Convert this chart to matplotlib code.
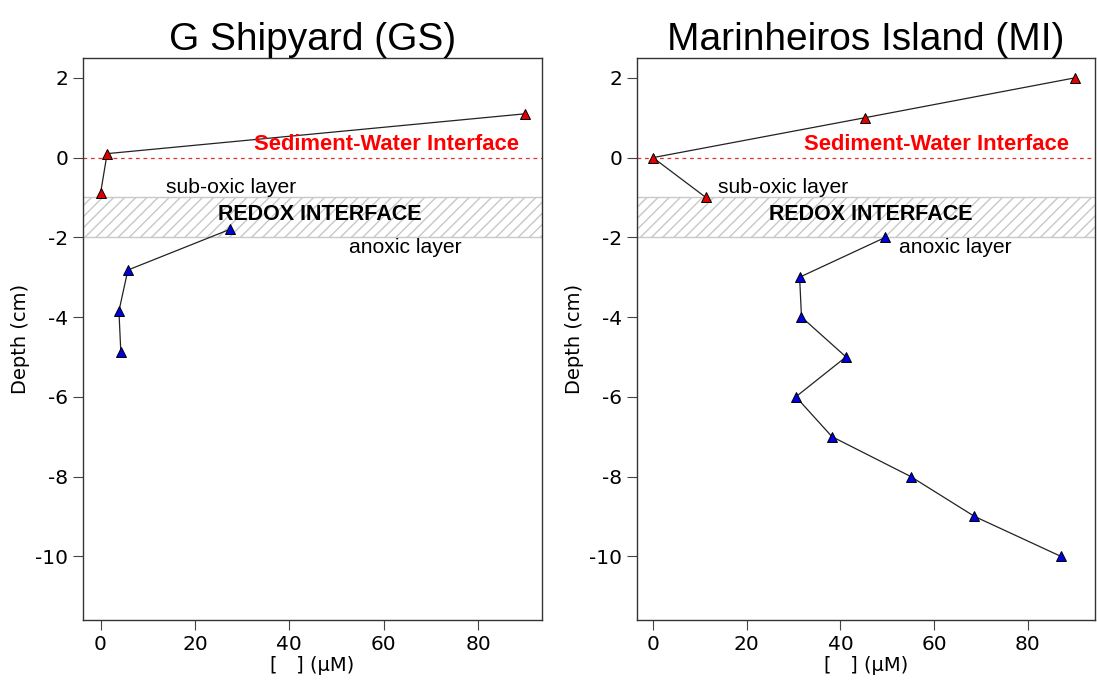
"""redox profiles, two sites"""
import numpy as np
import matplotlib.pyplot as plt

plt.rcParams['axes.unicode_minus'] = False
plt.rcParams['font.family'] = 'DejaVu Sans'

# data (x = concentration in uM, y = depth in cm)
gs_red_x = [90.0, 1.4, 0.0]
gs_red_y = [1.1, 0.1, -0.9]
gs_blue_x = [27.4, 5.8, 3.9, 4.3]
gs_blue_y = [-1.8, -2.82, -3.85, -4.87]

mi_red_x = [90.0, 45.2, 0.0, 11.3]
mi_red_y = [2.0, 1.0, 0.0, -1.0]
mi_blue_x = [49.6, 31.3, 31.7, 41.2, 30.5, 38.2, 55.0, 68.6, 87.0]
mi_blue_y = [-2.0, -3.0, -4.0, -5.0, -6.0, -7.0, -8.0, -9.0, -10.0]

titles = ["G Shipyard (GS)", "Marinheiros Island (MI)"]
yticks = [2, 0, -2, -4, -6, -8, -10]
xticks = [0, 20, 40, 60, 80]

fig = plt.figure(figsize=(10.97, 6.86), dpi=100)
ax1 = fig.add_axes([0.0757, 0.0962, 0.4183, 0.8193])
ax2 = fig.add_axes([0.5807, 0.0962, 0.4173, 0.8193])

sets = [(ax1, gs_red_x, gs_red_y, gs_blue_x, gs_blue_y, (-3.7, 93.5)),
        (ax2, mi_red_x, mi_red_y, mi_blue_x, mi_blue_y, (-3.4, 94.3))]

for i, (ax, rx, ry, bx, by, xl) in enumerate(sets):
    # redox band
    ax.axhspan(-2, -1, facecolor='none', edgecolor='#c8c8c8', hatch='///', lw=0)
    ax.axhline(-1, color='#c8c8c8', lw=1)
    ax.axhline(-2, color='#c8c8c8', lw=1)
    ax.axhline(0, color='#e03030', lw=0.9, ls=(0, (3, 3)))

    ax.plot(rx, ry, color='#222222', lw=0.9, zorder=3)
    ax.plot(bx, by, color='#222222', lw=0.9, zorder=3)
    ax.plot(rx, ry, ls='none', marker='^', ms=6.5, mfc='#e00000', mec='black', mew=0.7, zorder=4)
    ax.plot(bx, by, ls='none', marker='^', ms=6.5, mfc='#0000dd', mec='black', mew=0.7, zorder=4)

    ax.text(60.5, 0.33, "Sediment-Water Interface", color='#ff0000', fontweight='bold',
            fontsize=15.8, family='Liberation Sans', ha='center', va='center')
    ax.text(27.7, -0.75, "sub-oxic layer", fontsize=15.2, family='Liberation Sans',
            ha='center', va='center')
    ax.text(46.5, -1.43, "REDOX INTERFACE", fontsize=15.5, fontweight='bold',
            family='Liberation Sans', ha='center', va='center')
    ax.text(64.6, -2.26, "anoxic layer", fontsize=15.2, family='Liberation Sans',
            ha='center', va='center')

    ax.set_xlim(*xl)
    ax.set_ylim(-11.6, 2.5)
    ax.set_xticks(xticks)
    ax.set_yticks(yticks)
    ax.tick_params(direction='out', length=7, width=0.8, color='#444444', labelsize=14.5)
    for s in ax.spines.values():
        s.set_color('#333333')
        s.set_linewidth(1.0)
    ax.set_xlabel("[   ] (\u00b5M)", fontsize=14, labelpad=2)
    ax.set_ylabel("Depth (cm)", fontsize=14, labelpad=4)
    ax.set_title(titles[i], fontsize=28, family='Liberation Sans', pad=6)

fig.savefig("out.png", dpi=100)
